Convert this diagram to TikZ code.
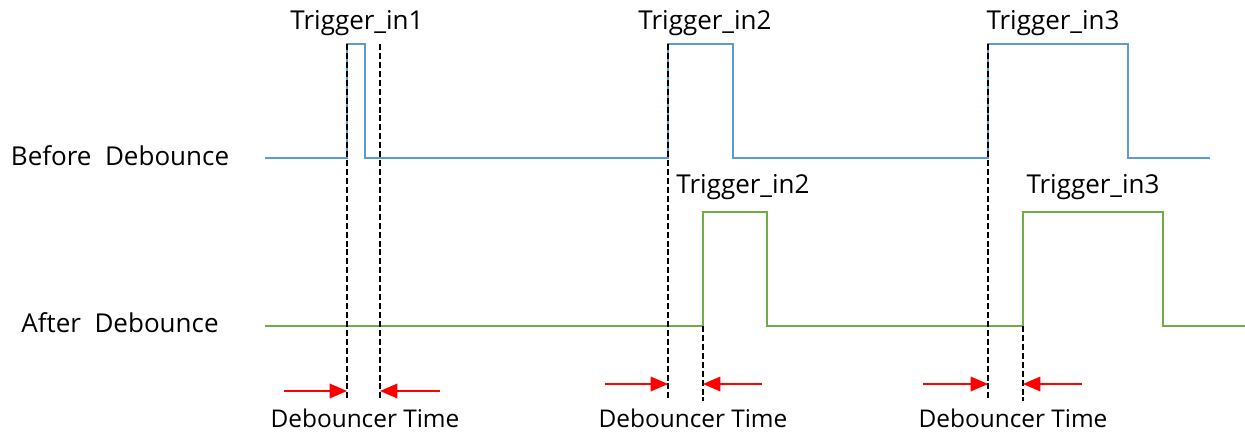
\documentclass[tikz,border=0pt]{standalone}
\usepackage{fontspec}
\setmainfont{Open Sans}
\definecolor{sigblue}{RGB}{91, 155, 213}
\definecolor{siggreen}{RGB}{112, 173, 71}
\usetikzlibrary{arrows.meta, positioning}

\begin{document}
\begin{tikzpicture}[x=0.75pt, y=-0.75pt,
  wave/.style={line width=1.7pt, line join=miter},
  guide/.style={line width=1.1pt, dash pattern=on 4.5pt off 2.2pt},
  lbl/.style={font=\fontsize{19.5}{23}\selectfont, inner sep=0pt},
  arr/.style={-{Triangle[length=13pt, width=11pt]}, red, line width=1pt}]
  \useasboundingbox (0,0) rectangle (1245,435);

  % signal names
  \node[lbl] (before) at (120,156) {Before\ \ Debounce};
  \node[lbl] (after) at (120,323) {After\ \ Debounce};

  % input signal
  \draw[wave, sigblue] (265,158) -- (347,158) -- (347,44) -- (365,44) -- (365,158)
    -- (668,158) -- (668,44) -- (733,44) -- (733,158)
    -- (988,158) -- (988,44) -- (1128,44) -- (1128,158) -- (1210,158);

  % debounced signal
  \draw[wave, siggreen] (265,326) -- (703,326) -- (703,212) -- (767,212) -- (767,326)
    -- (1023,326) -- (1023,212) -- (1163,212) -- (1163,326) -- (1245,326);

  \node[lbl] (trigA) at (357,23) {Trigger\_in1};
  \node[lbl] (trigB) at (705,23) {Trigger\_in2};
  \node[lbl] (trigC) at (1053,23) {Trigger\_in3};
  \node[lbl] (outB) at (743,187) {Trigger\_in2};
  \node[lbl] (outC) at (1093,187) {Trigger\_in3};

  % debounce windows
  \coordinate (g1t) at (347,44);  \coordinate (g1b) at (347,401);
  \coordinate (g2t) at (380,44);  \coordinate (g2b) at (380,401);
  \coordinate (g3t) at (668,44);  \coordinate (g3b) at (668,401);
  \coordinate (g4t) at (703,326); \coordinate (g4b) at (703,401);
  \coordinate (g5t) at (988,44);  \coordinate (g5b) at (988,401);
  \coordinate (g6t) at (1023,326); \coordinate (g6b) at (1023,401);
  \draw[guide] (g1t) -- (g1b);
  \draw[guide] (g2t) -- (g2b);
  \draw[guide] (g3t) -- (g3b);
  \draw[guide] (g4t) -- (g4b);
  \draw[guide] (g5t) -- (g5b);
  \draw[guide] (g6t) -- (g6b);

  \coordinate (a1s) at (284,391);  \coordinate (a1e) at (347,391);
  \coordinate (a2s) at (440,391);  \coordinate (a2e) at (380,391);
  \coordinate (a3s) at (605,384);  \coordinate (a3e) at (668,384);
  \coordinate (a4s) at (762,384);  \coordinate (a4e) at (703,384);
  \coordinate (a5s) at (923,384);  \coordinate (a5e) at (988,384);
  \coordinate (a6s) at (1082,384); \coordinate (a6e) at (1023,384);
  \draw[arr] (a1s) -- (a1e);
  \draw[arr] (a2s) -- (a2e);
  \draw[arr] (a3s) -- (a3e);
  \draw[arr] (a4s) -- (a4e);
  \draw[arr] (a5s) -- (a5e);
  \draw[arr] (a6s) -- (a6e);

  \node[lbl, font=\fontsize{18.3}{22}\selectfont] (dbA) at (365,418) {Debouncer Time};
  \node[lbl, font=\fontsize{18.3}{22}\selectfont] (dbB) at (693,418) {Debouncer Time};
  \node[lbl, font=\fontsize{18.3}{22}\selectfont] (dbC) at (1013,418) {Debouncer Time};
\end{tikzpicture}
\end{document}
